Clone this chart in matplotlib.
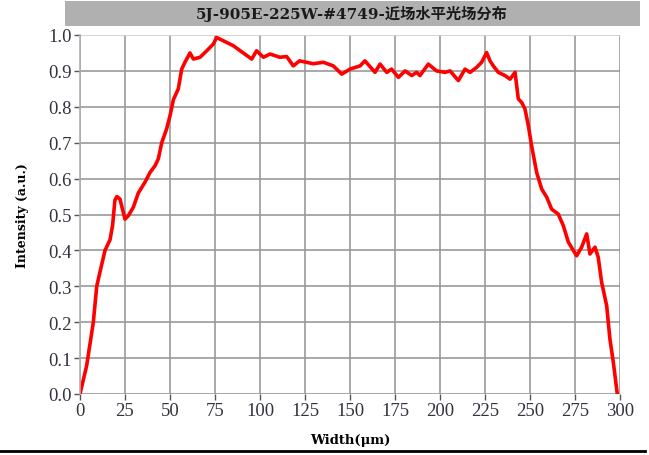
import matplotlib
matplotlib.use("Agg")
import matplotlib.pyplot as plt
from matplotlib.patches import Rectangle
from matplotlib.lines import Line2D

title = "5J-905E-225W-#4749-近场水平光场分布"
xlabel = "Width(μm)"
ylabel = "Intensity (a.u.)"
xticks = [0, 25, 50, 75, 100, 125, 150, 175, 200, 225, 250, 275, 300]
yticks = [0.0, 0.1, 0.2, 0.3, 0.4, 0.5, 0.6, 0.7, 0.8, 0.9, 1.0]

width_um = [0, 3.7, 7.4, 9.3, 11.1, 13.9, 16.7, 18.1, 19.4, 20.5, 22.2, 25, 26.9, 29.6,
            32.4, 36.1, 38.9, 41.7, 43.5, 45.4, 48.1, 50, 51.9, 54.6, 56.5, 58.3, 61.1,
            63, 66.7, 70.4, 74.1, 75.9, 79.6, 85.2, 90.7, 95.4, 98.1, 101.9, 105.6,
            111, 114.8, 118.5, 122, 129.6, 135.2, 140.7, 145.4, 150, 155.6, 158.3,
            163.9, 166.7, 170.4, 173.1, 176.9, 180.6, 184.3, 187, 188.9, 193.5, 198.1,
            202.8, 205.6, 210.2, 213.9, 216.7, 220.4, 223.1, 225.9, 227.8, 229.6,
            232.4, 236.1, 238.9, 241.7, 243.5, 245.4, 247.2, 249.1, 250.9, 253.7,
            256.5, 259.3, 262, 265.7, 268.5, 271.3, 275.9, 278.7, 281.5, 283.3,
            286.1, 287.9, 289.8, 292.6, 294.4, 296.3, 298.5]
intensity = [0.0, 0.079, 0.20, 0.30, 0.34, 0.40, 0.43, 0.47, 0.54, 0.55, 0.543, 0.487,
             0.497, 0.52, 0.56, 0.59, 0.617, 0.636, 0.655, 0.70, 0.738, 0.775, 0.82,
             0.85, 0.905, 0.924, 0.95, 0.933, 0.938, 0.956, 0.975, 0.993, 0.984, 0.97,
             0.95, 0.933, 0.956, 0.938, 0.947, 0.938, 0.94, 0.914, 0.928, 0.92, 0.924,
             0.914, 0.891, 0.905, 0.914, 0.928, 0.896, 0.919, 0.896, 0.905, 0.882,
             0.90, 0.887, 0.896, 0.887, 0.919, 0.90, 0.896, 0.90, 0.873, 0.905, 0.896,
             0.91, 0.924, 0.951, 0.928, 0.914, 0.896, 0.887, 0.877, 0.896, 0.822,
             0.812, 0.794, 0.747, 0.691, 0.617, 0.571, 0.548, 0.515, 0.501, 0.469,
             0.423, 0.385, 0.409, 0.446, 0.39, 0.409, 0.381, 0.311, 0.246, 0.153,
             0.088, 0.0]

W, H = 649, 456
fig = plt.figure(figsize=(W / 100, H / 100), dpi=100)
fig.patch.set_facecolor("white")

ax = fig.add_axes([80 / W, 1 - 395 / H, 540 / W, 359 / H])
ax.plot(width_um, intensity, color="#ff0000", lw=2.6, solid_joinstyle="round")
ax.set_xlim(0, 300)
ax.set_ylim(0, 1.0)
ax.set_xticks(xticks)
ax.set_yticks(yticks)
ax.set_xticklabels([str(t) for t in xticks])
ax.set_yticklabels([f"{t:.1f}" for t in yticks])
ax.grid(True, color="#999999", lw=1.2)
ax.set_axisbelow(True)
ax.get_ygridlines()[-1].set_color("#cccccc")
for s in ["top", "right", "bottom"]:
    ax.spines[s].set_visible(False)
ax.spines["left"].set_color("#b0b0b0")
ax.spines["left"].set_linewidth(1.2)
ax.tick_params(axis="both", colors="#555555", length=4, width=1, labelcolor="#333340",
               labelsize=13.5, pad=2)
for lab in ax.get_xticklabels() + ax.get_yticklabels():
    lab.set_family("Liberation Serif")

ax.set_xlabel(xlabel, family="DejaVu Serif", fontweight="bold", fontsize=9.5, labelpad=10)
ax.set_ylabel(ylabel, family="DejaVu Serif", fontweight="bold", fontsize=9, labelpad=14)

fig.patches.append(Rectangle((65 / W, 1 - 27 / H), 575 / W, 25 / H, transform=fig.transFigure,
                             facecolor="#b0b0b0", edgecolor="none"))
fig.text(352 / W, 1 - 14 / H, title, ha="center", va="center", fontsize=11,
         fontweight="bold", color="#1a1a1a", family=["DejaVu Serif", "Noto Sans CJK SC"])

fig.lines.append(Line2D([0, 645 / W], [1 - 452 / H, 1 - 452 / H], transform=fig.transFigure,
                        color="black", lw=2))

fig.savefig("out.png", dpi=100)
